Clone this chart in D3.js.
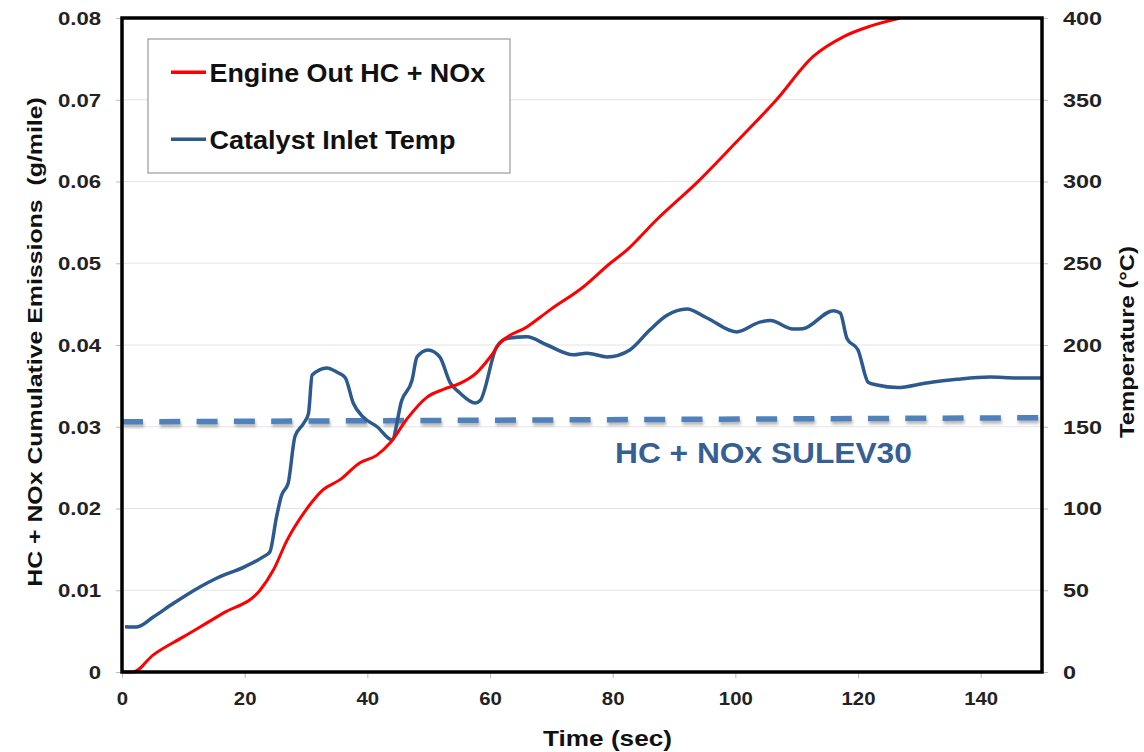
<!DOCTYPE html>
<html><head><meta charset="utf-8">
<script src="https://cdn.jsdelivr.net/npm/d3@7"></script>
<style>body{margin:0;background:#fff;} svg{display:block;font-family:"Liberation Sans",Arial,sans-serif;}</style>
</head><body>
<svg id="c" width="1144" height="752"></svg>
<script>
// Engine Out HC + NOx cumulative emissions (g/mile)
const hcTime = [0,1.8,5.1,10,16.5,22.5,24.7,26.9,29.6,31.2,32.8,35.5,38.8,41.5,43.7,46.5,49.7,52.5,55.1,57.8,60,61.6,66,69.8,75.2,79.6,82.3,87,94.2,100,106.7,112.7,117.6,122,126.9];
const hcVal  = [0,0,0.0021,0.0043,0.0072,0.0100,0.0125,0.0161,0.0194,0.0210,0.0223,0.0235,0.0256,0.0265,0.0280,0.0310,0.0336,0.0346,0.0353,0.0366,0.0385,0.0402,0.0422,0.0443,0.0471,0.0500,0.0516,0.0552,0.0602,0.0647,0.0700,0.0753,0.0777,0.0790,0.0800];
// Catalyst inlet temperature (°C)
const tTime = [0.5,2.4,5.1,8.4,12.7,15.5,19.8,23,24.1,25.2,26,27.1,28.2,29.6,30.4,31,33.4,35,36.4,37.7,39.3,41.6,44,45.6,47.3,48.1,49.9,51.8,53.5,55.1,57.6,58.4,61.1,62.8,66,69.3,73.6,75.8,79.1,82.8,86,88.8,92.1,95.4,100.2,104,105.7,109.4,111,116,117.1,118.2,120,121.7,123.1,126.4,131.2,136.1,141.5,145.9,150];
const tVal  = [27.7,27.5,33.6,42,52,57.5,64,70.4,73.4,95,108,115.6,144,152,158,181.6,186,183.5,180,164.5,156,150,142,166,178.6,192.7,197,192.7,177,170.6,164.5,166,199,204,205,200,194,195,192.7,197,209,218,222,216.5,208,214,215,209.8,210,221,219.6,204,197,177,175.5,174,176.8,179,180.4,179.8,179.8];
// SULEV30 limit line
const limTime = [0,150];
const limVal = [0.0306,0.0311];
const xTicks = [0,20,40,60,80,100,120,140];
const yTicks = [0,0.01,0.02,0.03,0.04,0.05,0.06,0.07,0.08];
const y2Ticks = [0,50,100,150,200,250,300,350,400];
const legendLabels = ["Engine Out HC + NOx","Catalyst Inlet Temp"];

const svg = d3.select("#c");
const L=122,R=1042,T=18,B=672;
const x = d3.scaleLinear().domain([0,150]).range([L,R]);
const y = d3.scaleLinear().domain([0,0.08]).range([B,T]);
const y2 = d3.scaleLinear().domain([0,400]).range([B,T]);

// horizontally scale a text element about its anchor x
function stretch(node, s){
  const ax = +node.getAttribute("x") || 0;
  node.setAttribute("transform",`translate(${ax},0) scale(${s},1) translate(${-ax},0)`);
}
function fitWidth(node, w){
  const bw = node.getBBox().width;
  stretch(node, w/bw);
}

const defs = svg.append("defs");
const f = defs.append("filter").attr("id","sh").attr("x","-5%").attr("y","-100%").attr("width","110%").attr("height","400%");
f.append("feDropShadow").attr("dx",1).attr("dy",3).attr("stdDeviation",1.5).attr("flood-color","#888").attr("flood-opacity",0.6);

// gridlines
svg.append("g").selectAll("line").data(yTicks.slice(1,-1)).join("line")
  .attr("x1",L).attr("x2",R).attr("y1",d=>y(d)).attr("y2",d=>y(d))
  .attr("stroke","#e4e4e4").attr("stroke-width",1.2);

// axes
const axL = svg.append("g").attr("transform",`translate(${L},0)`)
  .call(d3.axisLeft(y).tickValues(yTicks).tickFormat(d=>d===0?"0":d3.format(".2f")(d)).tickSize(6));
const axR = svg.append("g").attr("transform",`translate(${R},0)`)
  .call(d3.axisRight(y2).tickValues(y2Ticks).tickSize(6));
const axB = svg.append("g").attr("transform",`translate(0,${B})`)
  .call(d3.axisBottom(x).tickValues(xTicks).tickSize(6));
[axL,axR,axB].forEach(a=>{
  a.select(".domain").remove();
  a.selectAll(".tick line").attr("stroke","#bbb").attr("stroke-width",1);
  a.selectAll("text").attr("font-weight","bold").attr("fill","#222").attr("font-family","Liberation Sans, Arial, sans-serif");
});
axL.selectAll("text").attr("font-size",18).attr("x",-21).attr("dy","0.35em").each(function(){stretch(this,1.23);});
axR.selectAll("text").attr("font-size",18).attr("x",21).attr("dy","0.35em").each(function(){stretch(this,1.3);});
axB.selectAll("text").attr("font-size",18.5).attr("y",33).attr("dy",null).each(function(){stretch(this,1.1);});

// limit dashed line
const limData = limTime.map((t,i)=>[t,limVal[i]]);
svg.append("path").datum(limData)
  .attr("d",d3.line().x(d=>x(d[0])).y(d=>y(d[1])))
  .attr("fill","none").attr("stroke","#4f81bd").attr("stroke-width",5.5)
  .attr("stroke-dasharray","21,16.3").attr("filter","url(#sh)");

// series
const hcData = hcTime.map((t,i)=>[t,hcVal[i]]);
const tData = tTime.map((t,i)=>[t,tVal[i]]);
svg.append("path").datum(tData)
  .attr("d",d3.line().x(d=>x(d[0])).y(d=>y2(d[1])).curve(d3.curveMonotoneX))
  .attr("fill","none").attr("stroke","#2c5a8f").attr("stroke-width",3.5).attr("stroke-linejoin","round");
svg.append("path").datum(hcData)
  .attr("d",d3.line().x(d=>x(d[0])).y(d=>y(d[1])).curve(d3.curveMonotoneX))
  .attr("fill","none").attr("stroke","#ff0000").attr("stroke-width",3).attr("stroke-linejoin","round");

// frame
svg.append("rect").attr("x",L).attr("y",T).attr("width",R-L).attr("height",B-T)
  .attr("fill","none").attr("stroke","#000").attr("stroke-width",3.5);

// annotation
const ann = svg.append("text").attr("x",615).attr("y",463).attr("font-size",29).attr("font-weight","bold")
  .attr("fill","#365f94").text("HC + NOx SULEV30");
fitWidth(ann.node(), 297);

// legend
const lg = svg.append("g");
lg.append("rect").attr("x",148).attr("y",39).attr("width",362).attr("height",134)
  .attr("fill","#fff").attr("stroke","#999").attr("stroke-width",1.2);
const lgColors = ["#ff0000","#2c5a8f"];
const lgW = [276,246];
legendLabels.forEach((lab,i)=>{
  const yy = 72.3 + i*67;
  lg.append("line").attr("x1",171).attr("x2",206).attr("y1",yy).attr("y2",yy).attr("stroke",lgColors[i]).attr("stroke-width",3.5);
  const t = lg.append("text").attr("x",209.5).attr("y",yy+9.5).attr("font-size",26.5).attr("font-weight","bold").attr("fill","#111").text(lab);
  fitWidth(t.node(), lgW[i]);
});

// axis titles
const gl = svg.append("g").attr("transform",`translate(42,342) rotate(-90)`);
const tl = gl.append("text").attr("x",0).attr("y",0).attr("text-anchor","middle")
  .attr("font-size",21).attr("font-weight","bold").attr("fill","#111").attr("xml:space","preserve").text("HC + NOx Cumulative Emissions  (g/mile)");
fitWidth(tl.node(), 490);
const gr = svg.append("g").attr("transform",`translate(1134,342) rotate(-90)`);
const tr = gr.append("text").attr("x",0).attr("y",0).attr("text-anchor","middle")
  .attr("font-size",20).attr("font-weight","bold").attr("fill","#111").text("Temperature (°C)");
fitWidth(tr.node(), 192);
const tx = svg.append("text").attr("x",607.5).attr("y",746).attr("text-anchor","middle")
  .attr("font-size",22.5).attr("font-weight","bold").attr("fill","#111").text("Time (sec)");
fitWidth(tx.node(), 129);
</script>
</body></html>
